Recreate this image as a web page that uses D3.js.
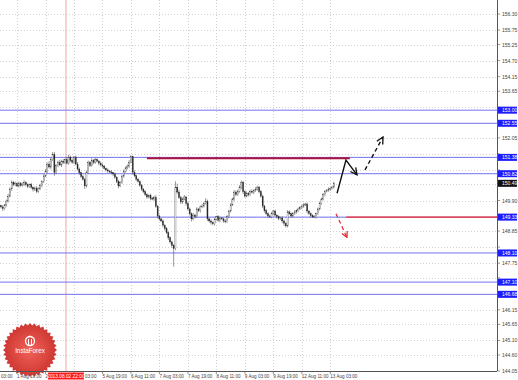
<!DOCTYPE html>
<html>
<head>
<meta charset="utf-8">
<script src="https://cdn.jsdelivr.net/npm/d3@7"></script>
<style>
body{margin:0;background:#fff;}
svg{display:block;font-family:"Liberation Sans",Arial,sans-serif;}
</style>
</head>
<body>
<script>
// H1 closes, bar 0 = 1 Aug 10:00
var firstOpen=149.72
var closes=[149.68,149.62,149.75,149.88,150.05,150.30,150.53,150.45,150.48,150.40,
150.50,150.42,150.46,150.52,150.44,150.38,150.45,150.35,150.29,150.33,
150.22,150.30,150.41,150.55,150.74,150.90,151.15,151.05,151.30,151.49,
150.87,151.10,151.21,151.12,151.25,151.21,151.30,151.18,151.39,151.28,
151.21,151.39,151.15,150.98,150.85,150.72,150.63,150.40,150.85,151.21,
151.10,151.28,151.21,151.30,151.25,151.18,151.12,151.08,151.00,150.95,
150.91,150.88,150.85,150.81,150.70,150.55,150.40,150.52,150.74,150.90,
151.02,151.08,151.21,151.40,150.87,150.75,150.63,150.55,150.42,150.29,
150.20,150.10,150.02,150.08,149.98,149.95,150.00,149.70,149.37,149.27,
149.20,149.05,148.93,148.80,148.62,148.48,148.35,148.25,150.36,150.19,
150.00,149.85,149.95,150.02,149.80,149.61,149.45,149.27,149.40,149.34,
149.61,149.55,149.68,149.71,149.80,149.88,149.27,149.20,149.15,149.10,
149.25,149.34,149.22,149.30,149.27,149.20,149.17,149.35,149.54,149.75,
149.95,150.19,150.10,150.22,150.35,150.53,150.20,150.05,150.15,150.10,
150.22,150.18,150.25,150.29,150.36,150.20,150.05,149.71,149.55,149.45,
149.37,149.34,149.45,149.54,149.40,149.34,149.28,149.30,149.20,149.12,
149.03,149.51,149.45,149.37,149.45,149.51,149.55,149.61,149.65,149.71,
149.75,149.78,149.54,149.45,149.38,149.34,149.34,149.45,149.61,149.80,
149.95,150.10,150.22,150.25,150.29,150.32,150.36,150.49]
// wick lengths in pips (1/100)
var wickUp=[4,6,3,5,8,5,6,4,7,5, 5,3,6,8,4,5,3,6,4,5, 6,5,7,4,6,8,5,10,6,7,
8,5,6,9,5,7,4,10,8,5, 6,4,5,7,5,4,6,5,8,6, 5,7,4,6,5,4,6,5,4,3,
5,4,6,3,5,4,6,5,4,7, 5,6,8,5,4,6,3,5,4,5, 4,6,5,3,5,4,6,8,5,4,
3,5,4,6,3,5,4,6,20,12, 8,6,5,7,4,6,5,4,7,5, 6,4,5,8,6,10,5,4,6,3,
5,4,6,5,3,4,6,5,4,6, 5,7,6,5,8,6,4,5,6,4, 5,6,4,7,5,4,6,5,4,6,
4,5,6,4,5,3,5,4,6,5, 4,6,5,4,5,6,4,5,6,5, 6,4,5,3,4,5,6,4,5,6, 5,6,4,5,6,4,5,6]
var wickDown=[5,8,4,6,5,4,7,5,6,4, 6,5,4,7,5,6,4,5,8,6, 7,5,4,6,5,4,6,5,8,4,
12,5,6,4,7,5,6,4,5,6, 5,6,4,5,7,6,5,10,6,4, 5,4,6,5,4,7,5,6,4,5,
6,4,5,7,6,5,8,4,5,6, 4,5,6,4,8,5,6,4,5,6, 5,4,6,5,7,4,6,5,8,6,
5,7,6,5,8,6,7,62,5,6, 5,7,6,4,8,5,6,9,5,6, 4,5,6,4,5,4,7,6,8,5,
6,4,5,7,4,6,5,4,6,5, 4,6,5,4,5,6,8,5,4,6, 5,4,6,5,4,6,5,7,6,5,
6,4,5,6,5,7,6,5,8,9, 6,5,4,6,5,4,6,5,4,5, 6,4,8,5,6,4,5,6,4,5, 4,5,6,4,5,6,4,5]

var priceTicks=[156.30,155.75,155.25,154.70,154.15,153.65,153.10,152.55,152.05,151.50,150.95,150.45,149.90,149.35,148.85,148.30,147.75,147.25,146.70,146.15,145.65,145.10,144.60,144.05]
var timeTicks=[-7,9,25,41,57,73,89,105,121,137,153,169,185]
var timeLabels=["1 Aug 03:00","1 Aug 19:00","2 Aug 11:00","5 Aug 03:00","5 Aug 19:00","6 Aug 11:00","7 Aug 03:00","7 Aug 19:00","8 Aug 11:00","9 Aug 03:00","9 Aug 19:00","12 Aug 11:00","13 Aug 03:00"]
var levels=[153.00,152.55,151.38,150.82,149.33,148.10,147.10,146.68]
var levelLabels=["153.00","152.55","151.38","150.82","149.33","148.10","147.10","146.68"]
var lastPrice=150.49
var markerBar=36.5
var markerLabel="2013.08.02 22:00"
var resistance={price:151.35,from:82,to:196}
var support={price:149.33,from:194}
var upPath=[[188.8,150.15],[193.8,151.29],[200,150.78]]
var upDash=[[204.5,150.95],[214.6,152.08]]
var downDash=[[188.2,149.45],[194.4,148.63]]

var W=518,H=380,plotR=497,plotB=371
var svg=d3.select("body").append("svg").attr("width",W).attr("height",H)
var x=d3.scaleLinear().domain([0,187]).range([1,1+187*1.78])
var y=d3.scaleLinear().domain([144.05,156.30]).range([plotB,14])

var defs=svg.append("defs")
defs.append("clipPath").attr("id","plot").append("rect").attr("width",plotR).attr("height",plotB)
var grad=defs.append("radialGradient").attr("id","badge")
grad.append("stop").attr("offset","0%").attr("stop-color","#f0554c")
grad.append("stop").attr("offset","100%").attr("stop-color","#c9241f")
function marker(id,col){
  defs.append("marker").attr("id",id).attr("viewBox","0 0 10 10").attr("refX",9).attr("refY",5)
    .attr("markerWidth",6).attr("markerHeight",6).attr("orient","auto-start-reverse")
    .append("path").attr("d","M1,1 L9,5 L1,9").attr("fill","none").attr("stroke",col).attr("stroke-width",1.6)
}
marker("ab","#111")
marker("ar","#e8262a")

var g=svg.append("g").attr("clip-path","url(#plot)")

// grid
g.selectAll("line.hg").data(priceTicks).enter().append("line").attr("class","hg")
  .attr("x1",0).attr("x2",plotR).attr("y1",function(d){return Math.round(y(d))+0.5}).attr("y2",function(d){return Math.round(y(d))+0.5})
  .attr("stroke","#c4c4c4").attr("stroke-dasharray","1,2").attr("stroke-width",0.8)
g.selectAll("line.vg").data(timeTicks).enter().append("line").attr("class","vg")
  .attr("y1",0).attr("y2",plotB).attr("x1",function(d){return Math.round(x(d))+0.5}).attr("x2",function(d){return Math.round(x(d))+0.5})
  .attr("stroke","#c4c4c4").attr("stroke-dasharray","1,2").attr("stroke-width",0.8)

// vertical marker line
g.append("line").attr("x1",x(markerBar)).attr("x2",x(markerBar)).attr("y1",0).attr("y2",plotB)
  .attr("stroke","#f4a3a3").attr("stroke-width",1)

// levels
g.selectAll("line.lv").data(levels).enter().append("line").attr("class","lv")
  .attr("x1",0).attr("x2",plotR).attr("y1",function(d){return y(d)}).attr("y2",function(d){return y(d)})
  .attr("stroke","#7373f2").attr("stroke-width",1)

// logo
var logo=svg.append("g").attr("transform","translate(30,350)")
var pts=[]
for(var i=0;i<72;i++){
  var r=i%2==0?27:24.5, a=i*Math.PI/36
  pts.push([r*Math.cos(a),r*Math.sin(a)])
}
logo.append("path").attr("d",d3.line()(pts)+"Z").attr("fill","url(#badge)").attr("opacity",0.92)
logo.append("circle").attr("cy",-9).attr("r",4.5).attr("fill","none").attr("stroke","#fff").attr("stroke-width",1.3)
logo.append("path").attr("d","M-1.5,-11 L-1.5,-5 M1.5,-11 L1.5,-5 M-3,-12 L0,-14 L3,-12").attr("stroke","#fff").attr("stroke-width",1).attr("fill","none")
logo.append("text").attr("y",3).attr("text-anchor","middle").attr("fill","#fff").attr("font-size",6.3).text("InstaForex")

// candles
var bars=closes.map(function(c,i){
  var o=i==0?firstOpen:closes[i-1]
  return {i:i,o:o,c:c,h:Math.max(o,c)+wickUp[i]/100,l:Math.min(o,c)-wickDown[i]/100}
})
g.selectAll("line.wick").data(bars).enter().append("line").attr("class","wick")
  .attr("x1",function(d){return x(d.i)}).attr("x2",function(d){return x(d.i)})
  .attr("y1",function(d){return y(d.h)}).attr("y2",function(d){return y(d.l)})
  .attr("stroke","#333").attr("stroke-width",0.5)
g.selectAll("rect.body").data(bars).enter().append("rect").attr("class","body")
  .attr("x",function(d){return x(d.i)-0.55}).attr("width",1.1)
  .attr("y",function(d){return y(Math.max(d.o,d.c))})
  .attr("height",function(d){return Math.max(0.5,Math.abs(y(d.o)-y(d.c)))})
  .attr("fill",function(d){return d.c>=d.o?"#fff":"#222"})
  .attr("stroke","#333").attr("stroke-width",0.3)

// resistance / support
g.append("line").attr("x1",x(resistance.from)).attr("x2",x(resistance.to))
  .attr("y1",y(resistance.price)).attr("y2",y(resistance.price))
  .attr("stroke","#a8123e").attr("stroke-width",2)
g.append("line").attr("x1",x(support.from)).attr("x2",plotR)
  .attr("y1",y(support.price)).attr("y2",y(support.price))
  .attr("stroke","#f02a2a").attr("stroke-width",1.4)

// arrows
var line=d3.line().x(function(d){return x(d[0])}).y(function(d){return y(d[1])})
g.append("path").attr("d",line(upPath)).attr("fill","none").attr("stroke","#111").attr("stroke-width",1.4).attr("marker-end","url(#ab)")
g.append("path").attr("d",line(upDash)).attr("fill","none").attr("stroke","#111").attr("stroke-width",1.4).attr("stroke-dasharray","4,3").attr("marker-end","url(#ab)")
g.append("path").attr("d",line(downDash)).attr("fill","none").attr("stroke","#e8262a").attr("stroke-width",1.2).attr("stroke-dasharray","4,3").attr("marker-end","url(#ar)")

// axes frame
svg.append("line").attr("x1",plotR+0.5).attr("x2",plotR+0.5).attr("y1",0).attr("y2",plotB).attr("stroke","#555")
svg.append("line").attr("x1",0).attr("x2",plotR).attr("y1",plotB+0.5).attr("y2",plotB+0.5).attr("stroke","#555")

// price labels (those under a level box are hidden, as in the terminal)
var boxed=levels.concat([lastPrice])
var shownTicks=priceTicks.filter(function(p){
  return !boxed.some(function(b){return Math.abs(y(b)-y(p))<7})
})
svg.selectAll("text.pt").data(shownTicks).enter().append("text").attr("class","pt")
  .attr("x",502).attr("y",function(d){return y(d)+2}).attr("font-size",5).attr("fill","#444")
  .text(function(d){return d.toFixed(2)})
svg.selectAll("line.ptk").data(priceTicks).enter().append("line").attr("class","ptk")
  .attr("x1",plotR).attr("x2",plotR+3).attr("y1",function(d){return y(d)}).attr("y2",function(d){return y(d)}).attr("stroke","#555").attr("stroke-width",0.6)

// time labels; the ones under the red marker box or off the left edge are cut like in the terminal
var mx=x(markerBar)
function part(d,i){
  var t=timeLabels[i]
  if(x(d)<0) return {t:t.split(" ")[2],x:1}
  if(x(d)<mx-18&&x(d)+22>mx-18) return {t:t.split(" ")[0],x:x(d)}
  if(x(d)<mx+18&&x(d)>mx-18) return {t:t.split(" ")[2],x:mx+19}
  return {t:t,x:x(d)}
}
svg.selectAll("text.tt").data(timeTicks).enter().append("text").attr("class","tt")
  .attr("x",function(d,i){return part(d,i).x}).attr("y",378).attr("font-size",4.6).attr("fill","#444")
  .text(function(d,i){return part(d,i).t})
svg.selectAll("line.ttk").data(timeTicks).enter().append("line").attr("class","ttk")
  .attr("x1",function(d){return x(d)}).attr("x2",function(d){return x(d)}).attr("y1",plotB).attr("y2",plotB+3).attr("stroke","#555").attr("stroke-width",0.6)

// marker label
svg.append("rect").attr("x",mx-18).attr("y",372.5).attr("width",36).attr("height",7).attr("fill","#ff1a1a")
svg.append("text").attr("x",mx).attr("y",378).attr("text-anchor","middle").attr("font-size",4.8).attr("fill","#fff").text(markerLabel)

// level boxes
svg.selectAll("rect.lb").data(levels).enter().append("rect").attr("class","lb")
  .attr("x",plotR+1).attr("width",19).attr("y",function(d){return y(d)-3.5}).attr("height",7).attr("fill","#1d1dff")
svg.selectAll("text.lb").data(levels).enter().append("text").attr("class","lb")
  .attr("x",502).attr("y",function(d){return y(d)+2}).attr("font-size",5).attr("fill","#fff")
  .text(function(d,i){return levelLabels[i]})

// last price
svg.append("rect").attr("x",plotR+1).attr("width",19).attr("y",y(lastPrice)-3.5).attr("height",7).attr("fill","#111")
svg.append("text").attr("x",502).attr("y",y(lastPrice)+2).attr("font-size",5).attr("fill","#fff").text(lastPrice.toFixed(2))
</script>
</body>
</html>
